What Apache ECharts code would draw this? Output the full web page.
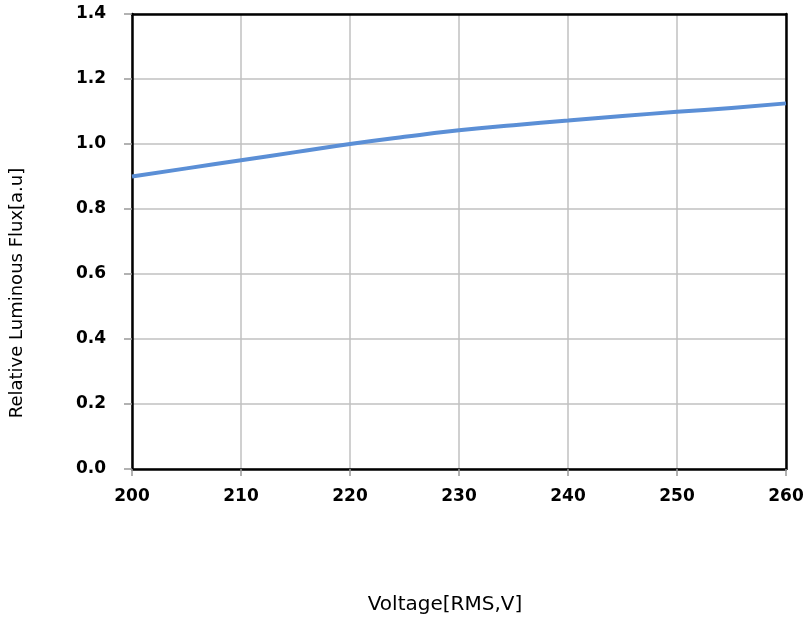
<!DOCTYPE html>
<html><head><meta charset="utf-8">
<script src="https://cdn.jsdelivr.net/npm/echarts@6/dist/echarts.min.js"></script>
<style>html,body{margin:0;padding:0;background:#fff}#c{width:807px;height:620px}</style>
</head><body><div id="c"></div>
<script>
const voltage = [200, 205, 210, 215, 220, 225, 230, 235, 240, 245, 250, 255, 260];
const flux = [0.900, 0.925, 0.950, 0.975, 1.000, 1.022, 1.042, 1.058, 1.072, 1.086, 1.099, 1.111, 1.125];
const xName = 'Voltage[RMS,V]';
const yName = 'Relative Luminous Flux[a.u]';

const chart = echarts.init(document.getElementById('c'), null, {renderer: 'canvas'});
const lbl = {color: '#000', fontFamily: 'DejaVu Sans', fontWeight: 'bold', fontSize: 17};
const blackLine = {show: true, onZero: false, lineStyle: {color: '#000', width: 2.5}};
const hidden = {axisTick: {show: false}, axisLabel: {show: false}, splitLine: {show: false}};
chart.setOption({
  animation: false,
  grid: {left: 132, right: 21, top: 14, bottom: 151, outerBoundsMode: 'none', containLabel: false},
  xAxis: [{
    type: 'value', min: 200, max: 260, interval: 10,
    axisLine: blackLine,
    axisTick: {show: true, length: 7, lineStyle: {color: '#999', width: 1.5}},
    axisLabel: Object.assign({margin: 19}, lbl),
    splitLine: {show: true, lineStyle: {color: '#c0c0c0', width: 1.5}}
  }, Object.assign({type: 'value', min: 200, max: 260, position: 'top', axisLine: blackLine}, hidden)],
  yAxis: [{
    type: 'value', min: 0, max: 1.4, interval: 0.2,
    axisLine: blackLine,
    axisTick: {show: true, length: 8, lineStyle: {color: '#999', width: 1.5}},
    axisLabel: Object.assign({margin: 26, formatter: v => v.toFixed(1)}, lbl),
    splitLine: {show: true, lineStyle: {color: '#c0c0c0', width: 1.5}}
  }, Object.assign({type: 'value', min: 0, max: 1.4, position: 'right', axisLine: blackLine}, hidden)],
  graphic: [
    {type: 'text', x: 445, y: 605, style: {text: xName, fill: '#000', font: '20px "DejaVu Sans"', textAlign: 'center', textVerticalAlign: 'middle'}},
    {type: 'text', x: 17, y: 293, rotation: Math.PI / 2, style: {text: yName, fill: '#000', font: '18px "DejaVu Sans"', textAlign: 'center', textVerticalAlign: 'middle'}}
  ],
  series: [{
    type: 'line', smooth: true, showSymbol: false,
    data: voltage.map((v, i) => [v, flux[i]]),
    lineStyle: {color: '#5b8fd6', width: 4}
  }]
});
</script></body></html>
